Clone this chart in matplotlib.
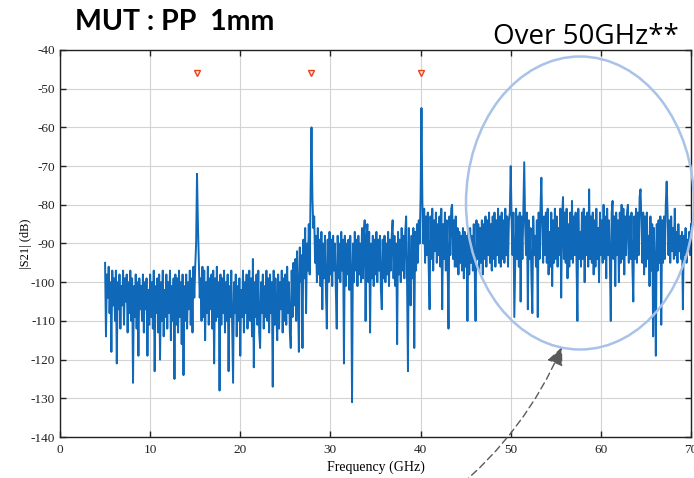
import numpy as np
import matplotlib
matplotlib.use("Agg")
import matplotlib.pyplot as plt
from matplotlib.patches import Ellipse

plt.rcParams["axes.unicode_minus"] = False

# Swept |S21| trace, 5–70 GHz in 0.1 GHz steps (dB)
f_start, f_stop = 5.0, 70.0
s21_db = [
    -95, -114, -98, -104, -96, -108, -100, -118, -97, -106,
    -99, -110, -97, -121, -100, -107, -98, -112, -101, -106,
    -97, -111, -99, -105, -98, -113, -100, -108, -97, -110,
    -99, -126, -101, -109, -98, -112, -100, -119, -99, -107,
    -101, -110, -98, -113, -100, -107, -99, -119, -102, -111,
    -98, -109, -100, -112, -97, -123, -101, -108, -99, -113,
    -98, -120, -100, -110, -97, -114, -102, -109, -98, -112,
    -100, -108, -97, -115, -101, -110, -99, -125, -98, -111,
    -99, -113, -97, -109, -100, -116, -98, -124, -101, -110,
    -98, -112, -100, -107, -97, -111, -99, -113, -96, -104,
    -96, -90, -72, -85, -94, -104, -99, -110, -96, -109,
    -97, -115, -100, -108, -96, -111, -99, -107, -98, -112,
    -97, -121, -99, -110, -96, -109, -100, -128, -98, -111,
    -99, -108, -97, -113, -100, -110, -98, -123, -101, -109,
    -97, -112, -126, -100, -108, -98, -114, -101, -110, -99,
    -119, -102, -109, -97, -113, -100, -108, -98, -112, -101,
    -97, -110, -99, -114, -94, -122, -100, -109, -98, -111,
    -97, -113, -117, -100, -108, -98, -112, -101, -109, -97,
    -110, -99, -113, -98, -108, -100, -127, -97, -111, -99,
    -109, -115, -98, -112, -100, -107, -97, -113, -99, -110,
    -98, -111, -96, -108, -100, -113, -117, -97, -109, -95,
    -106, -94, -110, -92, -103, -118, -91, -100, -93, -117,
    -89, -99, -86, -108, -90, -97, -85, -98, -76, -60,
    -78, -86, -83, -95, -88, -100, -86, -98, -89, -101,
    -87, -107, -90, -99, -88, -102, -112, -89, -100, -87,
    -98, -89, -101, -88, -97, -90, -102, -112, -88, -99,
    -90, -100, -87, -97, -89, -121, -88, -101, -90, -98,
    -89, -102, -88, -99, -131, -90, -100, -87, -97, -89,
    -101, -88, -98, -90, -100, -86, -99, -88, -84, -110,
    -89, -85, -100, -87, -113, -90, -99, -88, -101, -89,
    -98, -87, -100, -89, -97, -88, -102, -107, -89, -99,
    -88, -100, -90, -98, -87, -101, -89, -97, -88, -84,
    -99, -88, -101, -90, -116, -87, -98, -89, -100, -86,
    -97, -88, -99, -87, -83, -100, -123, -86, -98, -106,
    -88, -99, -86, -117, -87, -97, -85, -95, -84, -90,
    -78, -55, -79, -90, -81, -95, -83, -93, -82, -96,
    -107, -83, -94, -81, -97, -84, -92, -82, -95, -85,
    -93, -83, -96, -81, -107, -85, -94, -82, -97, -84,
    -95, -112, -83, -93, -81, -80, -94, -84, -96, -83,
    -96, -86, -98, -87, -95, -88, -97, -86, -99, -87,
    -96, -88, -110, -87, -98, -86, -95, -88, -97, -85,
    -96, -110, -84, -94, -85, -97, -86, -95, -84, -98,
    -85, -94, -83, -96, -84, -93, -82, -95, -85, -97,
    -83, -94, -82, -96, -84, -93, -81, -95, -83, -96,
    -82, -94, -84, -95, -81, -93, -83, -96, -84, -82,
    -70, -84, -93, -82, -109, -95, -81, -94, -83, -96,
    -82, -105, -83, -94, -81, -69, -85, -93, -82, -107,
    -84, -94, -86, -99, -108, -83, -93, -88, -96, -84,
    -109, -82, -94, -81, -73, -86, -95, -83, -93, -82,
    -95, -81, -98, -87, -96, -82, -101, -84, -95, -81,
    -94, -83, -96, -86, -93, -81, -104, -83, -78, -94,
    -82, -95, -81, -99, -85, -96, -82, -94, -79, -95,
    -83, -93, -82, -95, -110, -81, -94, -87, -96, -82,
    -94, -81, -100, -83, -93, -82, -96, -76, -94, -83,
    -95, -82, -98, -84, -96, -81, -94, -86, -100, -82,
    -93, -84, -95, -80, -94, -83, -99, -81, -93, -84,
    -95, -110, -82, -79, -94, -83, -101, -82, -93, -84,
    -100, -82, -95, -80, -94, -81, -98, -83, -93, -82,
    -80, -95, -83, -94, -82, -96, -105, -83, -94, -81,
    -95, -82, -93, -78, -76, -84, -95, -82, -98, -83,
    -96, -82, -94, -88, -101, -83, -97, -85, -114, -86,
    -96, -119, -85, -97, -84, -95, -83, -111, -84, -95,
    -83, -94, -80, -74, -82, -93, -84, -95, -83, -92,
    -86, -94, -81, -93, -87, -95, -85, -92, -88, -94,
    -87, -107, -88, -93, -86, -95, -89, -92, -87, -93,
    -85,
]

# Harmonic markers
marker_freqs = [15.2, 27.9, 40.1]
marker_level = -46

x_ticks = [0, 10, 20, 30, 40, 50, 60, 70]
y_ticks = [-140, -130, -120, -110, -100, -90, -80, -70, -60, -50, -40]

title_text = "MUT : PP  1mm"
note_text = "Over 50GHz**"

freq = np.linspace(f_start, f_stop, len(s21_db))

W, H = 694, 478
fig = plt.figure(figsize=(W / 100, H / 100), dpi=100)
ax = fig.add_axes([60 / W, 1 - 437 / H, 631 / W, 387 / H])

ax.plot(freq, s21_db, color="#0f68b8", lw=1.4)
ax.plot(marker_freqs, [marker_level] * len(marker_freqs), ls="none",
        marker="v", ms=5, mfc="#ffe2d6", mec="#e8421c", mew=1.0)

ax.set_xlim(0, 70)
ax.set_ylim(-140, -40)
ax.set_xticks(x_ticks)
ax.set_yticks(y_ticks)
ax.grid(True, color="#d3d3d3", lw=0.8)
ax.set_axisbelow(True)
ax.tick_params(direction="in", top=True, right=True, length=4, width=1,
               labelsize=9.5, colors="#222222")
ax.tick_params(axis="x", pad=5)
for lab in ax.get_xticklabels() + ax.get_yticklabels():
    lab.set_family("Liberation Serif")
for sp in ax.spines.values():
    sp.set_color("#222222")
    sp.set_linewidth(1.0)

ax.set_xlabel("Frequency (GHz)", family="Liberation Serif", fontsize=10,
              labelpad=3)
ax.set_ylabel("|S21| (dB)", family="Liberation Serif", fontsize=9,
              labelpad=-1)

fig.text(75 / W, 1 - 30 / H, title_text, family="Lato", weight="bold",
         fontsize=20.5, ha="left", va="baseline")
fig.text(493 / W, 1 - 44 / H, note_text, family="Open Sans",
         fontsize=20, ha="left", va="baseline")

ell = Ellipse((580 / W, 1 - 203 / H), 228 / W, 293 / H,
              transform=fig.transFigure, fill=False,
              ec="#a9c2e8", lw=1.8, clip_on=False)
fig.patches.append(ell)

ax.annotate("", xy=(562 / W, 1 - 347 / H), xytext=(455 / W, 1 - 490 / H),
            xycoords="figure fraction", textcoords="figure fraction",
            arrowprops=dict(arrowstyle="-|>,head_length=1.1,head_width=0.5",
                            ls=(0, (5, 3)), color="#5a5a5a", lw=1.0,
                            connectionstyle="arc3,rad=0.12",
                            shrinkA=0, shrinkB=0),
            annotation_clip=False)

fig.savefig("out.png", dpi=100, facecolor="white")
